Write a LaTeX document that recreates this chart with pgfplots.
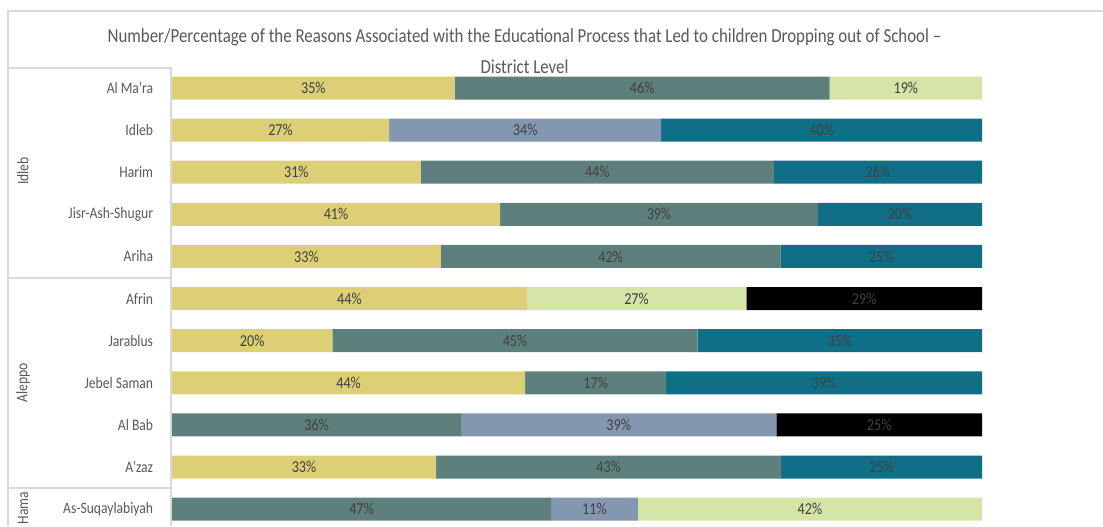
\documentclass[border=0pt]{standalone}
\usepackage{fontspec}
\setmainfont{Carlito}[FakeStretch=0.85]
\usepackage{pgfplots}
\usepackage{pgfplotstable}
\pgfplotsset{compat=1.18}
\definecolor{cY}{HTML}{DCCF75}
\definecolor{cG}{HTML}{5E807C}
\definecolor{cB}{HTML}{8497B0}
\definecolor{cT}{HTML}{0E6F87}
\definecolor{cL}{HTML}{D5E5A8}
\definecolor{cK}{HTML}{000000}
\definecolor{txt}{HTML}{595959}
\definecolor{btxt}{HTML}{404040}
\definecolor{frame}{HTML}{D9D9D9}

\pgfplotstableread{
row Y G B T L K
0 34.9 46.3 0 0 18.8 0
1 26.8 0 33.6 39.6 0 0
2 30.7 43.6 0 25.7 0 0
3 40.5 39.25 0 20.25 0 0
4 33.2 41.9 0 24.9 0 0
5 43.8 0 0 0 27.1 29.1
6 19.8 45.1 0 35.1 0 0
7 43.6 17.4 0 39.0 0 0
8 0 35.7 38.9 0 0 25.4
9 32.6 42.6 0 24.8 0 0
10 0 46.8 10.7 0 42.5 0
}\bars

\pgfplotstableread{
x y lab
17.45 0 35
58.05 0 46
90.6 0 19
13.4 1 27
43.6 1 34
80.2 1 40
15.35 2 31
52.5 2 44
87.15 2 26
20.25 3 41
60.125 3 39
89.875 3 20
16.6 4 33
54.15 4 42
87.55 4 25
21.9 5 44
57.35 5 27
85.45 5 29
9.9 6 20
42.35 6 45
82.45 6 35
21.8 7 44
52.3 7 17
80.5 7 39
17.85 8 36
55.15 8 39
87.3 8 25
16.3 9 33
53.9 9 43
87.6 9 25
23.4 10 47
52.15 10 11
78.75 10 42
}\labs

\pgfplotsset{
  base/.style={
    at={(172*0.75pt,-68*0.75pt)}, anchor=north west,
    width=607.5pt, height=343.5pt, scale only axis,
    xmin=0, xmax=100, ymin=-0.475, ymax=10.4, y dir=reverse,
  }
}

\begin{document}
\begin{tikzpicture}
\useasboundingbox (0,0) rectangle (1103*0.75pt,-526*0.75pt);
% frame
\draw[frame, line width=1.5pt] (1103*0.75pt,-11*0.75pt) -- (8*0.75pt,-11*0.75pt) -- (8*0.75pt,-526*0.75pt);
\draw[frame, line width=1.2pt] (8*0.75pt,-68*0.75pt) -- (171*0.75pt,-68*0.75pt) -- (171*0.75pt,-526*0.75pt);
\draw[frame, line width=1.2pt] (8*0.75pt,-278*0.75pt) -- (171*0.75pt,-278*0.75pt);
\draw[frame, line width=1.2pt] (8*0.75pt,-488*0.75pt) -- (171*0.75pt,-488*0.75pt);
% title
\node[font=\fontsize{14.9}{23}\selectfont, text=txt, align=center] at (524.5*0.75pt,-51*0.75pt)
  {Number/Percentage of the Reasons Associated with the Educational Process that Led to children Dropping out of School --\\District Level};
% group labels
\node[rotate=90, font=\fontsize{12}{14}\selectfont, text=txt] at (23*0.75pt,-171*0.75pt) {Idleb};
\node[rotate=90, font=\fontsize{12}{14}\selectfont, text=txt] at (23*0.75pt,-383*0.75pt) {Aleppo};
\node[rotate=90, font=\fontsize{12}{14}\selectfont, text=txt] at (23*0.75pt,-508*0.75pt) {Hama};

\begin{axis}[base,
  xbar stacked, bar width=17.25pt,
  axis line style={draw=none}, tick style={draw=none},
  xtick=\empty, ytick={0,...,10},
  yticklabels={Al Ma'ra,Idleb,Harim,Jisr-Ash-Shugur,Ariha,Afrin,Jarablus,Jebel Saman,Al Bab,A'zaz,As-Suqaylabiyah},
  yticklabel style={font=\fontsize{12}{14}\selectfont, text=txt, inner sep=0pt, xshift=-14pt},
]
\addplot[fill=cY, draw=none] table[x=Y, y=row]{\bars};
\addplot[fill=cG, draw=none] table[x=G, y=row]{\bars};
\addplot[fill=cB, draw=none] table[x=B, y=row]{\bars};
\addplot[fill=cT, draw=none] table[x=T, y=row]{\bars};
\addplot[fill=cL, draw=none] table[x=L, y=row]{\bars};
\addplot[fill=cK, draw=none] table[x=K, y=row]{\bars};
\end{axis}

\begin{axis}[base, hide axis, clip=false]
\addplot[draw=none, mark=none, point meta=explicit,
  nodes near coords={\pgfmathprintnumber[fixed,precision=0,assume math mode=true]{\pgfplotspointmeta}\%},
  every node near coord/.style={anchor=center, font=\fontsize{12.5}{14}\selectfont, text=btxt}]
  table[x=x, y=y, meta=lab]{\labs};
\end{axis}
\end{tikzpicture}
\end{document}
